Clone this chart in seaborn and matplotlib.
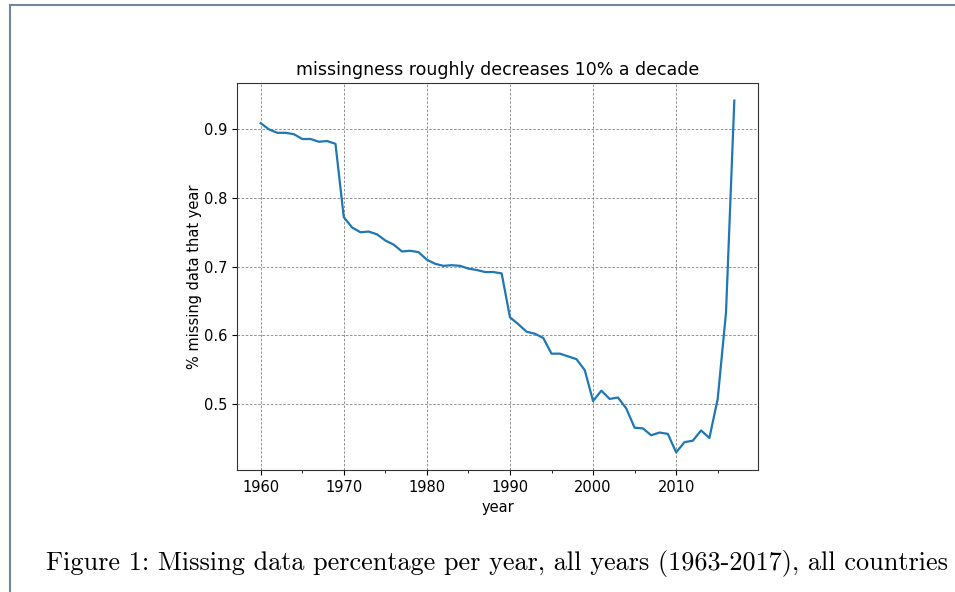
import matplotlib
matplotlib.use("Agg")
import matplotlib.pyplot as plt
from matplotlib.ticker import AutoMinorLocator
from matplotlib.lines import Line2D
import seaborn as sns
import pandas as pd

years = list(range(1960, 2018))
missing = [0.909, 0.900, 0.895, 0.895, 0.893, 0.886, 0.886, 0.882, 0.883, 0.879,
           0.772, 0.757, 0.750, 0.751, 0.747, 0.738, 0.732, 0.722, 0.723, 0.721,
           0.710, 0.704, 0.701, 0.702, 0.701, 0.697, 0.695, 0.692, 0.692, 0.690,
           0.626, 0.616, 0.605, 0.602, 0.596, 0.573, 0.573, 0.569, 0.565, 0.549,
           0.504, 0.519, 0.507, 0.509, 0.493, 0.465, 0.464, 0.454, 0.458, 0.456,
           0.429, 0.444, 0.446, 0.461, 0.450, 0.507, 0.633, 0.942]

title = "missingness roughly decreases 10% a decade"
xlabel = "year"
ylabel = "% missing data that year"
caption = "Figure 1: Missing data percentage per year, all years (1963-2017), all countries"

df = pd.DataFrame({"year": years, "missing": missing})

fig = plt.figure(figsize=(9.55, 5.92), dpi=100)
ax = fig.add_axes([237/955, 1-470/592, (758-237)/955, (470-83)/592])
sns.lineplot(data=df, x="year", y="missing", ax=ax, color="#1f77b4", linewidth=1.6)
ax.set_title(title, fontsize=12.5)
ax.set_xlabel(xlabel, fontsize=10.5)
ax.set_ylabel(ylabel, fontsize=10.5, labelpad=1.5)
ax.tick_params(labelsize=10.5)
ax.xaxis.set_minor_locator(AutoMinorLocator(2))
ax.grid(True, which="major", linestyle=(0, (3, 2)), color="gray", linewidth=0.6)
for s in ax.spines.values():
    s.set_color("#333333")

# page border
fig.add_artist(Line2D([9.5/955, 9.5/955], [0, 1-5/592], transform=fig.transFigure,
                      color="#7085a0", linewidth=1.5))
fig.add_artist(Line2D([9.5/955, 1], [1-5/592, 1-5/592], transform=fig.transFigure,
                      color="#7085a0", linewidth=1.5))

fig.text(46/955, 1-570/592, caption, fontsize=18.9, family="cmr10",
         ha="left", va="baseline")

fig.savefig("out.png", dpi=100)
